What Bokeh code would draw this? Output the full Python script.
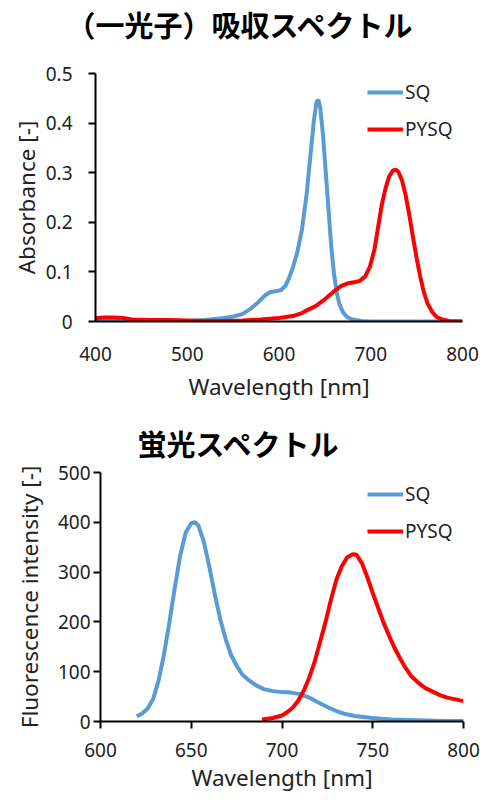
from bokeh.plotting import figure
from bokeh.models import Range1d, FixedTicker, Legend, LegendItem, Title
from bokeh.embed import file_html
from bokeh.resources import INLINE

# ---------- data: absorption ----------
abs_sq_wl = [400, 420, 440, 460, 480, 500, 520, 540, 550, 560, 570, 578, 585, 590, 596, 602,
             607, 611, 615, 620, 625, 630, 634, 638, 641, 643, 645, 648, 651, 654, 657, 660,
             663, 666, 670, 675, 680, 690, 700, 720, 750, 780, 800]
abs_sq = [0.001, 0.001, 0.001, 0.001, 0.001, 0.001, 0.003, 0.007, 0.010, 0.015, 0.027, 0.040,
          0.053, 0.059, 0.061, 0.063, 0.072, 0.088, 0.108, 0.140, 0.185, 0.255, 0.330, 0.405,
          0.443, 0.447, 0.430, 0.375, 0.300, 0.225, 0.150, 0.095, 0.058, 0.034, 0.018, 0.008,
          0.004, 0.001, 0.0, 0.0, 0.0, 0.0, 0.0]

abs_py_wl = [400, 410, 420, 430, 440, 460, 480, 500, 520, 540, 560, 580, 600, 615, 625, 632,
             640, 648, 655, 662, 668, 675, 682, 688, 694, 699, 704, 708, 712, 716, 720, 724,
             727, 730, 734, 738, 742, 746, 750, 754, 758, 762, 767, 772, 778, 785, 800]
abs_py = [0.007, 0.008, 0.008, 0.007, 0.004, 0.003, 0.003, 0.002, 0.001, 0.001, 0.002, 0.004,
          0.007, 0.011, 0.017, 0.024, 0.031, 0.042, 0.053, 0.064, 0.072, 0.077, 0.079, 0.082,
          0.091, 0.110, 0.145, 0.190, 0.235, 0.268, 0.292, 0.304, 0.306, 0.302, 0.285, 0.255,
          0.215, 0.170, 0.128, 0.090, 0.058, 0.036, 0.019, 0.009, 0.004, 0.001, 0.0]

# ---------- data: fluorescence ----------
fl_sq_wl = [620, 623, 626, 629, 632, 635, 638, 641, 644, 647, 650, 652, 654, 657, 660, 663,
            666, 669, 672, 675, 678, 682, 686, 690, 695, 700, 705, 710, 715, 720, 725, 730,
            735, 740, 750, 760, 770, 780, 790, 800]
fl_sq = [10, 16, 26, 45, 82, 135, 200, 270, 335, 380, 398, 400, 393, 360, 310, 255,
         205, 165, 133, 112, 95, 82, 72, 65, 61, 59, 58, 55, 48, 38, 29, 21,
         15, 11, 7, 4, 3, 2, 1, 1]

fl_py_wl = [689, 695, 700, 703, 706, 709, 712, 715, 718, 721, 724, 727, 730, 733, 736, 739,
            741, 744, 747, 750, 753, 756, 759, 762, 765, 768, 771, 775, 779, 783, 787, 791,
            795, 800]
fl_py = [4, 7, 12, 19, 28, 42, 62, 88, 120, 160, 200, 245, 285, 312, 330, 336,
         335, 318, 290, 258, 228, 198, 172, 148, 127, 108, 92, 78, 67, 60, 53, 48,
         45, 41]

series_names = ["SQ", "PYSQ"]
titles = ["（一光子）吸収スペクトル", "蛍光スペクトル"]
abs_yticks = [0, 0.1, 0.2, 0.3, 0.4, 0.5]
abs_xticks = [400, 500, 600, 700, 800]
fl_yticks = [0, 100, 200, 300, 400, 500]
fl_xticks = [600, 650, 700, 750, 800]

BLUE = "#5B9BD5"
RED = "#FF0000"
FONT = "Noto Sans"
JFONT = "Noto Sans CJK JP"
TXT = "#222222"


def style(p, xlabel, ylabel, xticks, yticks):
    p.outline_line_color = None
    p.xgrid.grid_line_color = None
    p.ygrid.grid_line_color = None
    for ax in (p.xaxis[0], p.yaxis[0]):
        ax.axis_line_color = "black"
        ax.axis_line_width = 2
        ax.major_tick_line_color = "black"
        ax.major_tick_line_width = 2
        ax.minor_tick_line_color = None
        ax.major_label_text_font = FONT
        ax.major_label_text_font_size = "19px"
        ax.major_label_text_color = TXT
        ax.axis_label_text_font = FONT
        ax.axis_label_text_font_size = "22.5px"
        ax.axis_label_text_font_style = "normal"
        ax.axis_label_text_color = TXT
    p.xaxis[0].axis_label = xlabel
    p.yaxis[0].axis_label = ylabel
    p.xaxis[0].ticker = FixedTicker(ticks=xticks)
    p.yaxis[0].ticker = FixedTicker(ticks=yticks)


def make_legend(renderers, loc):
    return Legend(items=[LegendItem(label=n, renderers=[r]) for n, r in zip(series_names, renderers)],
                  location=loc, border_line_color=None, background_fill_alpha=0,
                  padding=0, margin=0, spacing=11, glyph_width=36, glyph_height=20,
                  label_standoff=2, label_text_font=FONT, label_text_font_size="19px",
                  label_text_color=TXT, label_height=20)


def make_title(text, offset, standoff):
    return Title(text=text, align="left", vertical_align="bottom", offset=offset, standoff=standoff,
                 text_font=JFONT, text_font_size="29px", text_font_style="bold",
                 text_color="black")


# ---------- title strip for the top chart ----------
t1 = figure(width=483, height=50, output_backend="svg", toolbar_location=None,
            x_axis_type=None, y_axis_type=None,
            min_border_left=0, min_border_right=0, min_border_top=0, min_border_bottom=0)
t1.outline_line_color = None
t1.add_layout(make_title(titles[0], 66, 0), "above")

# ---------- top chart ----------
p1 = figure(frame_width=367, frame_height=248, output_backend="svg", toolbar_location=None,
            x_range=Range1d(400, 800), y_range=Range1d(0, 0.5),
            min_border_left=95, min_border_right=21, min_border_top=23, min_border_bottom=84)
style(p1, "Wavelength [nm]", "Absorbance [-]", abs_xticks, abs_yticks)
p1.xaxis[0].major_tick_line_color = None
p1.xaxis[0].major_tick_out = 0
p1.xaxis[0].major_tick_in = 0
p1.xaxis[0].major_label_standoff = 25
p1.xaxis[0].axis_label_standoff = 7
p1.yaxis[0].major_tick_out = 7
p1.yaxis[0].major_tick_in = 0
p1.yaxis[0].major_label_standoff = 16
p1.yaxis[0].axis_label_standoff = 1
p1.yaxis[0].major_label_overrides = {0: "0", 0.1: "0.1", 0.2: "0.2", 0.3: "0.3", 0.4: "0.4", 0.5: "0.5"}
r1 = p1.line(abs_sq_wl, abs_sq, line_color=BLUE, line_width=4)
r2 = p1.line(abs_py_wl, abs_py, line_color=RED, line_width=4)
p1.add_layout(make_legend([r1, r2], (272, 179)))

# ---------- bottom chart ----------
p2 = figure(frame_width=363, frame_height=249, output_backend="svg", toolbar_location=None,
            x_range=Range1d(600, 800), y_range=Range1d(0, 500),
            min_border_left=100, min_border_right=20, min_border_top=67, min_border_bottom=79)
style(p2, "Wavelength [nm]", "Fluorescence intensity [-]", fl_xticks, fl_yticks)
p2.xaxis[0].major_tick_out = 7
p2.xaxis[0].major_tick_in = 0
p2.xaxis[0].major_label_standoff = 14
p2.xaxis[0].axis_label_standoff = 2
p2.yaxis[0].major_tick_out = 7
p2.yaxis[0].major_tick_in = 0
p2.yaxis[0].major_label_standoff = 3
p2.yaxis[0].axis_label_standoff = 10
r3 = p2.line(fl_sq_wl, fl_sq, line_color=BLUE, line_width=4)
r4 = p2.line(fl_py_wl, fl_py, line_color=RED, line_width=4)
p2.add_layout(make_legend([r3, r4], (267, 177)))
p2.add_layout(make_title(titles[1], 37, 18), "above")

open("out.html", "w").write(file_html([t1, p1, p2], INLINE))
